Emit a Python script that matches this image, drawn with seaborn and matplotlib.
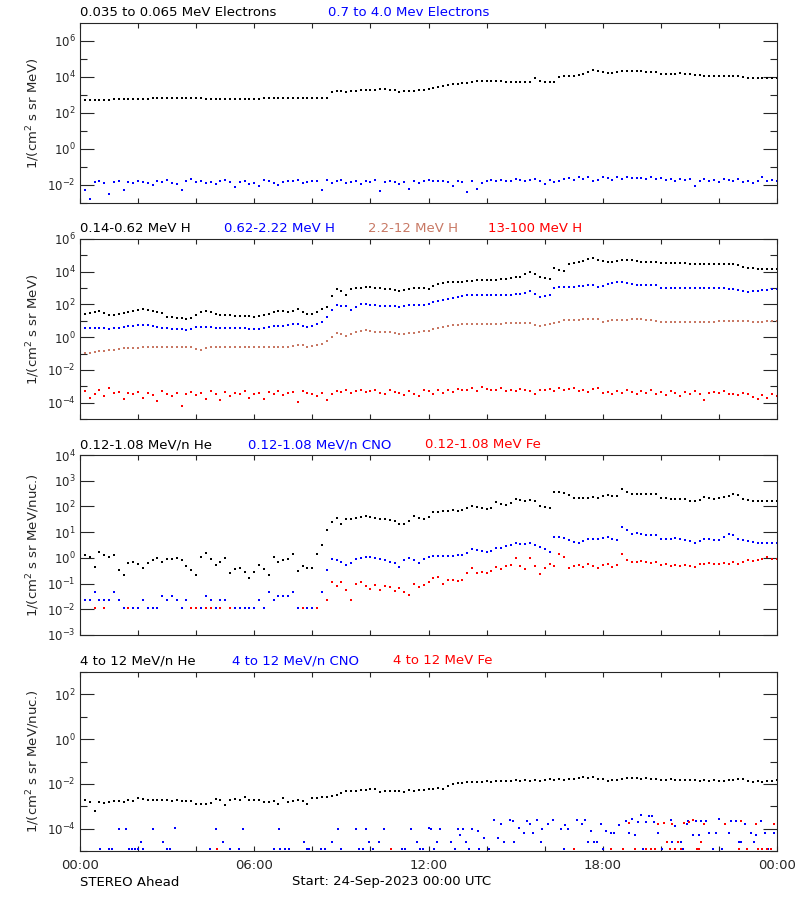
import numpy as np
import pandas as pd
import seaborn as sns
import matplotlib.pyplot as plt
from matplotlib.ticker import FixedLocator, FixedFormatter, NullFormatter

nan = np.nan

# sample times, one every 10 minutes over the day (hours since 00:00 UTC)
hours = [i / 6 for i in range(145)]

# ---- panel 1: electrons, log10 of flux ----
e_low = [
    2.77, 2.75, 2.74, 2.73, 2.72, 2.74,
    2.75, 2.76, 2.76, 2.77, 2.78, 2.78,
    2.78, 2.79, 2.80, 2.81, 2.82, 2.83,
    2.84, 2.84, 2.84, 2.83, 2.83, 2.82,
    2.82, 2.81, 2.80, 2.79, 2.78, 2.77,
    2.77, 2.76, 2.76, 2.77, 2.78, 2.78,
    2.79, 2.80, 2.81, 2.82, 2.83, 2.82,
    2.82, 2.82, 2.81, 2.82, 2.82, 2.82,
    2.81, 2.82, 2.83, 2.84, 3.15, 3.22,
    3.22, 3.15, 3.20, 3.25, 3.27, 3.28,
    3.28, 3.30, 3.31, 3.32, 3.30, 3.26,
    3.19, 3.20, 3.24, 3.25, 3.27, 3.28,
    3.31, 3.38, 3.46, 3.50, 3.57, 3.60,
    3.63, 3.66, 3.68, 3.72, 3.76, 3.78,
    3.79, 3.78, 3.77, 3.78, 3.72, 3.71,
    3.71, 3.70, 3.71, 3.72, 3.96, 3.80,
    3.72, 3.71, 3.72, 4.02, 4.03, 4.05,
    4.08, 4.12, 4.18, 4.26, 4.39, 4.32,
    4.30, 4.25, 4.24, 4.30, 4.33, 4.34,
    4.33, 4.32, 4.31, 4.30, 4.30, 4.30,
    4.14, 4.15, 4.17, 4.19, 4.20, 4.18,
    4.15, 4.12, 4.10, 4.08, 4.07, 4.07,
    4.07, 4.07, 4.07, 4.06, 4.03, 3.98,
    3.93, 3.94, 3.96, 3.96, 3.95, 3.96,
    3.96]
e_high = [
    -1.95, -2.30, -2.80, -1.85, -1.80, -1.90,
    -2.50, -1.82, -1.80, -2.30, -1.85, -1.88,
    -1.78, -1.85, -1.90, -2.00, -1.75, -1.82,
    -1.70, -1.88, -1.95, -2.25, -1.80, -1.68,
    -1.85, -1.75, -1.90, -1.85, -1.92, -1.80,
    -1.70, -1.85, -2.10, -1.82, -1.76, -1.95,
    -1.90, -2.05, -1.72, -1.80, -1.88, -2.02,
    -1.85, -1.80, -1.76, -1.72, -1.90, -1.85,
    -1.75, -1.80, -2.30, -1.70, -1.88, -1.78,
    -1.72, -1.90, -1.85, -1.80, -1.95, -1.76,
    -1.82, -1.74, -2.35, -1.85, -1.80, -1.86,
    -1.95, -1.82, -2.20, -1.76, -1.88, -1.80,
    -1.74, -1.78, -1.76, -1.80, -1.85, -2.05,
    -1.78, -1.82, -2.40, -1.80, -2.20, -1.90,
    -1.78, -1.72, -1.76, -1.70, -1.80, -1.75,
    -1.68, -1.72, -1.80, -1.74, -1.66, -1.78,
    -1.95, -1.70, -1.82, -1.75, -1.68, -1.60,
    -1.72, -1.58, -1.65, -1.55, -1.80, -1.72,
    -1.55, -1.62, -1.72, -1.58, -1.66, -1.55,
    -1.62, -1.62, -1.60, -1.64, -1.58, -1.66,
    -1.60, -1.72, -1.64, -1.78, -1.68, -1.74,
    -1.66, -2.05, -1.80, -1.64, -1.76, -1.70,
    -1.82, -1.66, -1.72, -1.80, -1.68, -1.85,
    -1.78, -1.90, -1.75, -1.58, -1.80, -1.72,
    -1.78]

# ---- panel 2: protons ----
h_1 = [
    1.41, 1.44, 1.50, 1.55, 1.57, 1.45,
    1.35, 1.38, 1.43, 1.48, 1.55, 1.62,
    1.68, 1.71, 1.68, 1.60, 1.53, 1.45,
    1.26, 1.22, 1.18, 1.16, 1.14, 1.18,
    1.37, 1.52, 1.59, 1.52, 1.40, 1.37,
    1.35, 1.33, 1.30, 1.30, 1.29, 1.28,
    1.26, 1.28, 1.33, 1.42, 1.52, 1.63,
    1.58, 1.53, 1.60, 1.71, 1.55, 1.39,
    1.42, 1.55, 1.70, 1.87, 2.52, 2.93,
    2.85, 2.60, 2.97, 3.00, 3.03, 3.05,
    3.04, 3.02, 3.00, 2.97, 2.93, 2.87,
    2.83, 2.88, 2.94, 3.03, 3.00, 2.98,
    2.97, 3.12, 3.26, 3.32, 3.36, 3.36,
    3.36, 3.38, 3.42, 3.46, 3.50, 3.50,
    3.50, 3.50, 3.52, 3.56, 3.58, 3.62,
    3.66, 3.70, 3.84, 3.97, 3.85, 3.70,
    3.62, 3.56, 4.21, 4.12, 4.05, 4.46,
    4.52, 4.58, 4.65, 4.78, 4.86, 4.72,
    4.66, 4.58, 4.62, 4.68, 4.72, 4.72,
    4.70, 4.64, 4.62, 4.62, 4.62, 4.60,
    4.52, 4.53, 4.54, 4.56, 4.56, 4.52,
    4.48, 4.47, 4.47, 4.47, 4.47, 4.47,
    4.46, 4.47, 4.47, 4.46, 4.40, 4.30,
    4.25, 4.20, 4.19, 4.19, 4.19, 4.19,
    4.19]
h_2 = [
    0.57, 0.56, 0.57, 0.58, 0.57, 0.55,
    0.53, 0.55, 0.58, 0.62, 0.66, 0.70,
    0.74, 0.76, 0.72, 0.66, 0.62, 0.58,
    0.55, 0.52, 0.50, 0.47, 0.45, 0.50,
    0.60, 0.65, 0.63, 0.60, 0.58, 0.57,
    0.57, 0.57, 0.56, 0.55, 0.54, 0.52,
    0.51, 0.53, 0.58, 0.64, 0.71, 0.70,
    0.69, 0.72, 0.78, 0.82, 0.70, 0.61,
    0.68, 0.79, 0.95, 1.26, 1.67, 1.98,
    1.92, 1.88, 1.67, 1.85, 2.00, 2.00,
    1.97, 1.95, 1.93, 1.91, 1.91, 1.90,
    1.87, 1.92, 1.96, 1.98, 1.98, 1.98,
    2.05, 2.12, 2.22, 2.30, 2.34, 2.40,
    2.46, 2.50, 2.55, 2.58, 2.60, 2.60,
    2.60, 2.60, 2.60, 2.60, 2.58, 2.58,
    2.62, 2.66, 2.72, 2.83, 2.65, 2.48,
    2.52, 2.58, 3.03, 3.04, 3.06, 3.08,
    3.09, 3.12, 3.15, 3.20, 3.18, 3.09,
    3.12, 3.25, 3.30, 3.35, 3.38, 3.30,
    3.22, 3.20, 3.20, 3.20, 3.20, 3.18,
    3.03, 3.02, 3.00, 2.99, 2.99, 2.99,
    2.99, 2.99, 2.99, 2.99, 2.99, 2.99,
    2.99, 2.98, 2.96, 2.93, 2.90, 2.85,
    2.79, 2.80, 2.84, 2.89, 2.91, 2.93,
    2.93]
h_3 = [
    -0.93, -0.95, -0.97, -0.92, -0.86, -0.83,
    -0.80, -0.76, -0.72, -0.68, -0.66, -0.65,
    -0.64, -0.63, -0.63, -0.63, -0.62, -0.62,
    -0.63, -0.62, -0.60, -0.58, -0.57, -0.58,
    -0.70, -0.80, -0.68, -0.57, -0.60, -0.62,
    -0.63, -0.63, -0.63, -0.63, -0.63, -0.63,
    -0.63, -0.63, -0.63, -0.63, -0.62, -0.62,
    -0.60, -0.57, -0.52, -0.46, -0.50, -0.63,
    -0.55, -0.46, -0.40, -0.26, 0.00, 0.25,
    0.20, 0.10, 0.20, 0.30, 0.36, 0.41,
    0.38, 0.34, 0.30, 0.29, 0.29, 0.28,
    0.21, 0.22, 0.25, 0.28, 0.32, 0.35,
    0.40, 0.48, 0.55, 0.62, 0.70, 0.74,
    0.76, 0.78, 0.80, 0.82, 0.82, 0.82,
    0.82, 0.82, 0.82, 0.83, 0.84, 0.84,
    0.84, 0.84, 0.85, 0.86, 0.76, 0.70,
    0.74, 0.80, 0.86, 0.95, 1.02, 1.04,
    1.06, 1.08, 1.10, 1.10, 1.10, 1.10,
    0.90, 0.96, 1.02, 1.04, 1.06, 1.08,
    1.10, 1.10, 1.10, 1.08, 1.02, 0.96,
    0.90, 0.90, 0.90, 0.90, 0.90, 0.90,
    0.90, 0.90, 0.90, 0.90, 0.90, 0.92,
    0.96, 0.96, 0.96, 0.96, 0.96, 0.96,
    0.96, 0.95, 0.95, 0.95, 0.96, 0.96,
    0.98]
h_4 = [
    -3.55, -3.30, -3.70, -3.45, -3.20, -3.60,
    -3.10, -3.40, -3.35, -3.80, -3.40, -3.45,
    -3.35, -3.70, -3.40, -3.55, -3.90, -3.30,
    -3.45, -3.60, -3.40, -4.20, -3.50, -3.35,
    -3.55, -3.40, -3.75, -3.30, -3.45, -3.85,
    -3.35, -3.60, -3.40, -3.50, -3.30, -3.70,
    -3.45, -3.40, -3.80, -3.35, -3.50, -3.30,
    -3.55, -3.40, -3.35, -3.95, -3.30, -3.40,
    -3.50, -3.60, -3.40, -3.85, -3.50, -3.30,
    -3.35, -3.25, -3.40, -3.30, -3.20, -3.35,
    -3.30, -3.25, -3.40, -3.50, -3.20, -3.35,
    -3.40, -3.55, -3.30, -3.45, -3.60, -3.25,
    -3.30, -3.45, -3.25, -3.40, -3.20, -3.35,
    -3.15, -3.25, -3.20, -3.10, -3.30, -3.05,
    -3.15, -3.20, -3.25, -3.10, -3.30, -3.20,
    -3.30, -3.15, -3.20, -3.30, -3.50, -3.20,
    -3.25, -3.15, -3.30, -3.10, -3.25, -3.15,
    -3.10, -3.30, -3.20, -3.35, -3.15, -3.10,
    -3.40, -3.35, -3.45, -3.30, -3.40, -3.25,
    -3.35, -3.50, -3.30, -3.40, -3.25, -3.45,
    -3.35, -3.55, -3.30, -3.40, -3.60, -3.35,
    -3.45, -3.30, -3.50, -3.85, -3.40, -3.35,
    -3.40, -3.30, -3.50, -3.45, -3.55, -3.40,
    -3.50, -3.65, -3.80, -3.55, -3.70, -3.45,
    -3.60]

# ---- panel 3: 0.12-1.08 MeV/n heavy ions ----
he_lo = [
    0.04, 0.10, 0.04, -0.35, 0.24, 0.10,
    0.02, 0.10, -0.47, -0.67, -0.21, -0.15,
    -0.25, -0.40, -0.21, -0.10, 0.00, -0.15,
    -0.05, -0.05, -0.02, -0.10, -0.30, -0.47,
    -0.67, 0.05, 0.18, -0.05, -0.27, -0.15,
    0.00, -0.60, -0.45, -0.40, -0.55, -0.80,
    -0.55, -0.27, -0.45, -0.67, 0.04, -0.15,
    -0.10, -0.05, 0.15, -0.53, -0.30, -0.40,
    -0.40, 0.15, 0.50, 1.08, 1.40, 1.55,
    1.30, 1.50, 1.53, 1.55, 1.58, 1.62,
    1.58, 1.55, 1.53, 1.50, 1.48, 1.42,
    1.31, 1.33, 1.45, 1.63, 1.55, 1.53,
    1.60, 1.77, 1.80, 1.83, 1.83, 1.85,
    1.83, 1.88, 1.95, 2.01, 1.98, 1.95,
    1.90, 1.95, 2.18, 2.10, 2.05, 2.15,
    2.27, 2.24, 2.22, 2.25, 2.20, 2.00,
    1.98, 1.95, 2.57, 2.55, 2.53, 2.45,
    2.31, 2.33, 2.34, 2.34, 2.35, 2.34,
    2.40, 2.44, 2.42, 2.40, 2.67, 2.55,
    2.49, 2.50, 2.49, 2.48, 2.49, 2.48,
    2.31, 2.31, 2.30, 2.28, 2.30, 2.27,
    2.20, 2.21, 2.25, 2.36, 2.33, 2.30,
    2.31, 2.35, 2.42, 2.49, 2.45, 2.27,
    2.24, 2.22, 2.22, 2.22, 2.22, 2.22,
    2.22]
cno_lo = [
    -1.32, -1.64, -1.64, -1.32, -1.64, -1.64,
    -1.64, -1.32, -1.64, -1.94, -1.94, -1.94,
    -1.94, -1.64, -1.94, -1.94, -1.94, -1.50,
    -1.64, -1.50, -1.64, -1.94, -1.64, -1.94,
    -1.94, -1.94, -1.50, -1.64, -1.94, -1.64,
    -1.64, -1.94, -1.94, -1.94, -1.94, -1.94,
    -1.94, -1.64, -1.94, -1.32, -1.64, -1.50,
    -1.50, -1.50, -1.32, -1.94, -1.94, -1.94,
    -1.94, -1.94, -1.32, -0.47, -0.06, -0.10,
    -0.15, -0.27, -0.20, -0.05, -0.02, 0.03,
    0.05, 0.00, -0.05, -0.10, -0.15, -0.20,
    -0.35, -0.10, 0.00, -0.10, -0.20, -0.05,
    0.02, 0.07, 0.07, 0.08, 0.06, 0.08,
    0.10, 0.12, 0.20, 0.33, 0.30, 0.25,
    0.24, 0.28, 0.37, 0.40, 0.45, 0.50,
    0.56, 0.55, 0.52, 0.56, 0.50, 0.41,
    0.35, 0.24, 0.82, 0.80, 0.78, 0.70,
    0.60, 0.56, 0.65, 0.72, 0.72, 0.72,
    0.76, 0.82, 0.75, 0.69, 1.21, 1.10,
    0.92, 0.96, 0.92, 0.88, 0.88, 0.88,
    0.75, 0.72, 0.75, 0.78, 0.75, 0.70,
    0.65, 0.58, 0.65, 0.75, 0.72, 0.71,
    0.71, 0.80, 0.91, 0.88, 0.75, 0.71,
    0.66, 0.60, 0.58, 0.58, 0.58, 0.58,
    0.58]
fe_lo = [
    nan, nan, nan, -1.94, nan, -1.94,
    nan, nan, nan, nan, -1.94, nan,
    nan, nan, nan, nan, nan, nan,
    nan, nan, nan, nan, nan, -1.94,
    -1.94, nan, -1.94, -1.94, nan, -1.94,
    nan, -1.94, nan, nan, nan, nan,
    nan, nan, nan, nan, nan, nan,
    nan, nan, nan, nan, -1.94, nan,
    nan, -1.94, nan, -1.64, -0.93, -1.10,
    -0.95, -1.26, -1.64, -1.00, -0.93, -1.10,
    -1.20, -1.05, -1.26, -1.10, -1.15, -1.30,
    -1.16, -1.32, -1.45, -1.00, -1.15, -1.05,
    -0.95, -0.80, -0.75, -1.00, -0.85, -0.88,
    -0.90, -0.85, -0.60, -0.41, -0.60, -0.55,
    -0.60, -0.50, -0.35, -0.45, -0.30, -0.28,
    -0.02, -0.32, -0.45, 0.00, -0.32, -0.64,
    -0.40, -0.22, -0.30, 0.15, 0.04, -0.40,
    -0.32, -0.28, -0.35, -0.25, -0.30, -0.40,
    -0.28, -0.22, -0.35, -0.28, 0.15, -0.10,
    -0.15, -0.18, -0.12, -0.15, -0.20, -0.15,
    -0.28, -0.25, -0.30, -0.28, -0.32, -0.28,
    -0.30, -0.35, -0.22, -0.25, -0.20, -0.22,
    -0.22, -0.20, -0.25, -0.18, -0.22, -0.15,
    -0.09, -0.12, -0.10, -0.05, 0.02, -0.05,
    -0.05]

# ---- panel 4: 4-12 MeV/n heavy ions ----
he_hi = [
    -3.05, -2.71, -2.80, -3.20, -2.83, -2.85,
    -2.83, -2.78, -2.76, -2.80, -2.74, -2.76,
    -2.61, -2.68, -2.71, -2.70, -2.73, -2.71,
    -2.70, -2.76, -2.74, -2.78, -2.76, -2.75,
    -2.90, -2.88, -2.92, -2.85, -2.66, -2.74,
    -2.95, -2.71, -2.68, -2.72, -2.60, -2.70,
    -2.72, -2.74, -2.80, -2.82, -2.78, -2.90,
    -2.61, -2.82, -2.76, -2.74, -2.78, -2.90,
    -2.65, -2.61, -2.60, -2.58, -2.54, -2.48,
    -2.40, -2.32, -2.31, -2.30, -2.28, -2.26,
    -2.21, -2.25, -2.36, -2.32, -2.30, -2.31,
    -2.30, -2.35, -2.28, -2.30, -2.26, -2.28,
    -2.21, -2.22, -2.18, -2.21, -2.10, -2.01,
    -1.98, -1.95, -1.93, -1.92, -1.90, -1.93,
    -1.88, -1.90, -1.86, -1.87, -1.85, -1.86,
    -1.84, -1.86, -1.82, -1.85, -1.84, -1.86,
    -1.82, -1.80, -1.83, -1.79, -1.82, -1.80,
    -1.76, -1.72, -1.70, -1.74, -1.70, -1.76,
    -1.80, -1.88, -1.82, -1.81, -1.76, -1.74,
    -1.75, -1.72, -1.76, -1.73, -1.77, -1.78,
    -1.82, -1.84, -1.80, -1.82, -1.83, -1.81,
    -1.82, -1.84, -1.85, -1.83, -1.86, -1.84,
    -1.86, -1.88, -1.84, -1.82, -1.78, -1.80,
    -1.86, -1.90, -1.88, -1.92, -1.88, -1.86,
    -1.84]

# sparse counts: (hour, log10 flux)
cno_hi = [
    (0.69, -4.9), (1.0, -4.9), (1.1, -4.9), (1.36, -4.0), (1.59, -4.0),
    (1.7, -4.9), (1.8, -4.9), (1.9, -4.9), (2.0, -4.9), (2.09, -4.61),
    (2.18, -4.9), (2.5, -4.0), (2.87, -4.61), (2.99, -4.9), (3.1, -4.9),
    (3.28, -3.98), (4.48, -4.9), (4.69, -4.0), (4.92, -4.61), (5.17, -4.9),
    (5.46, -4.9), (5.6, -4.0), (6.67, -4.9), (6.84, -4.0), (6.9, -4.9),
    (7.05, -4.9), (7.2, -4.9), (7.72, -4.61), (7.8, -4.9), (7.9, -4.9),
    (8.3, -4.9), (8.45, -4.9), (8.68, -4.61), (8.9, -4.0), (9.0, -4.9),
    (9.5, -4.0), (9.6, -4.9), (9.75, -4.9), (9.86, -4.0), (9.94, -4.61),
    (10.1, -4.9), (10.3, -4.61), (10.46, -4.0), (11.1, -4.9), (11.2, -4.9),
    (11.4, -4.0), (11.6, -4.61), (11.7, -4.9), (11.8, -4.9), (12.0, -3.98),
    (12.1, -4.0), (12.2, -4.9), (12.3, -4.61), (12.4, -4.0), (12.76, -4.61),
    (12.9, -4.9), (13.0, -4.0), (13.1, -4.3), (13.2, -4.0), (13.3, -4.61),
    (13.4, -4.9), (13.5, -4.0), (13.7, -4.12), (13.75, -4.9), (13.9, -4.4),
    (14.1, -4.9), (14.25, -3.63), (14.4, -4.4), (14.5, -3.8), (14.6, -4.61),
    (14.8, -3.63), (14.9, -3.68), (14.94, -4.61), (15.1, -3.95), (15.3, -4.2),
    (15.4, -3.68), (15.5, -3.8), (15.6, -4.2), (15.75, -3.63), (15.86, -4.61),
    (15.9, -4.0), (16.1, -3.8), (16.3, -3.63), (16.55, -4.0), (16.67, -4.9),
    (16.7, -3.85), (16.8, -4.0), (17.0, -4.9), (17.1, -3.6), (17.3, -3.8),
    (17.4, -3.63), (17.5, -4.61), (17.6, -4.12), (17.7, -4.61), (17.8, -4.61),
    (17.93, -3.8), (18.0, -4.9), (18.1, -4.1), (18.3, -4.2), (18.4, -4.2),
    (18.56, -3.85), (18.7, -4.9), (18.8, -3.68), (18.9, -4.2), (19.0, -3.55),
    (19.1, -4.3), (19.2, -3.72), (19.3, -3.4), (19.4, -4.9), (19.5, -3.72),
    (19.6, -3.42), (19.7, -3.42), (19.77, -3.72), (19.8, -4.9), (19.9, -4.2),
    (20.05, -4.9), (20.2, -4.61), (20.35, -3.63), (20.4, -4.61), (20.5, -3.9),
    (20.7, -4.61), (20.75, -4.9), (20.9, -3.8), (20.92, -3.65), (21.1, -4.3),
    (21.2, -3.65), (21.3, -4.3), (21.4, -3.65), (21.55, -3.65), (21.66, -4.2),
    (21.8, -4.9), (21.9, -4.2), (22.0, -3.55), (22.1, -4.9), (22.35, -4.2),
    (22.4, -3.65), (22.6, -3.65), (22.7, -4.61), (22.75, -4.61), (22.9, -3.8),
    (23.1, -4.2), (23.2, -4.61), (23.27, -4.3), (23.45, -3.68), (23.5, -4.9),
    (23.6, -4.2), (23.7, -4.9), (23.9, -4.2)]
fe_hi = [
    (4.73, -4.9), (10.7, -4.9), (17.0, -4.9), (18.3, -4.9), (18.7, -4.9),
    (18.9, -3.75), (19.1, -4.9), (19.5, -4.9), (19.65, -4.9), (19.8, -4.9),
    (19.9, -3.8), (20.1, -3.75), (20.2, -4.61), (20.3, -4.9), (20.4, -3.8),
    (20.5, -4.9), (20.6, -4.61), (20.7, -4.9), (20.8, -3.75), (20.98, -3.72),
    (21.1, -3.63), (21.25, -4.9), (21.3, -4.9), (21.4, -4.61), (21.5, -3.8),
    (22.2, -3.8), (22.7, -4.9), (22.75, -3.65), (22.96, -4.9), (23.27, -3.8),
    (23.35, -4.9), (23.5, -4.9), (23.65, -4.9), (23.8, -4.9), (23.9, -3.8)]

BLACK, BLUE, SIENNA, RED = 'black', '#0000ff', '#c87864', '#ff0000'
TXT = 9.5

sns.set_style('ticks')
plt.rcParams['font.family'] = ['DejaVu Sans']
plt.rcParams['mathtext.fontset'] = 'dejavusans'

fig = plt.figure(figsize=(8, 9), dpi=100)
W, H = 800, 900


def px_axes(top, bottom):
    return fig.add_axes([80 / W, 1 - bottom / H, 697 / W, (bottom - top) / H])


def series(ax, logs, color, t=None):
    if t is None:
        t = hours
    df = pd.DataFrame({'hour': t, 'flux': np.power(10.0, logs)}).dropna()
    sns.scatterplot(data=df, x='hour', y='flux', ax=ax, color=color,
                    marker='s', s=4, linewidth=0, legend=False)


def pairs(ax, pts, color):
    t = [p[0] for p in pts]
    v = [p[1] for p in pts]
    series(ax, v, color, t)


def style(ax, lo, hi, labelled, minor, bottom_labels=False):
    ax.set_yscale('log')
    ax.set_ylim(10.0 ** lo, 10.0 ** hi)
    ax.set_xlim(0, 24)
    ax.yaxis.set_major_locator(FixedLocator([10.0 ** e for e in labelled]))
    ax.yaxis.set_major_formatter(
        FixedFormatter([r'$10^{%d}$' % e for e in labelled]))
    ax.yaxis.set_minor_locator(FixedLocator([10.0 ** e for e in minor]))
    ax.yaxis.set_minor_formatter(NullFormatter())
    ax.tick_params(axis='y', which='major', direction='in', length=10,
                   width=0.8, left=True, right=True, labelsize=8.5, pad=3)
    ax.tick_params(axis='y', which='minor', direction='in', length=5,
                   width=0.8, left=True, right=True)
    ax.set_xticks(range(0, 25, 2))
    if bottom_labels:
        ax.set_xticklabels(['00:00' if h % 24 == 0 else
                            ('%02d:00' % h if h % 6 == 0 else '')
                            for h in range(0, 25, 2)])
    else:
        ax.set_xticklabels([])
    ax.tick_params(axis='x', direction='in', length=3.5, width=0.8,
                   top=True, bottom=True, labelsize=TXT, pad=6)
    ax.set_xlabel('')
    ax.set_ylabel('')
    for sp in ax.spines.values():
        sp.set_linewidth(0.8)
        sp.set_visible(True)


def label(x, y, s, color='black', size=TXT, **kw):
    fig.text(x / W, 1 - y / H, s, color=color, fontsize=size,
             ha='left', va='center', **kw)


# panel 1
ax1 = px_axes(23, 203)
series(ax1, e_low, BLACK)
series(ax1, e_high, BLUE)
style(ax1, -3, 7, [-2, 0, 2, 4, 6], [-3, -1, 1, 3, 5])
label(80, 13, '0.035 to 0.065 MeV Electrons')
label(328, 13, '0.7 to 4.0 Mev Electrons', BLUE)

# panel 2
ax2 = px_axes(239, 419)
series(ax2, h_1, BLACK)
series(ax2, h_2, BLUE)
series(ax2, h_3, SIENNA)
series(ax2, h_4, RED)
style(ax2, -5, 6, [-4, -2, 0, 2, 4, 6], [-5, -3, -1, 1, 3, 5])
label(80, 229, '0.14-0.62 MeV H')
label(224, 229, '0.62-2.22 MeV H', BLUE)
label(368, 229, '2.2-12 MeV H', SIENNA)
label(488, 229, '13-100 MeV H', RED)

# panel 3
ax3 = px_axes(455, 635)
series(ax3, he_lo, BLACK)
series(ax3, cno_lo, BLUE)
series(ax3, fe_lo, RED)
style(ax3, -3, 4, [-3, -2, -1, 0, 1, 2, 3, 4], [])
label(80, 445, '0.12-1.08 MeV/n He')
label(248, 445, '0.12-1.08 MeV/n CNO', BLUE)
label(425, 445, '0.12-1.08 MeV Fe', RED)

# panel 4
ax4 = px_axes(672, 851)
series(ax4, he_hi, BLACK)
pairs(ax4, cno_hi, BLUE)
pairs(ax4, fe_hi, RED)
style(ax4, -5, 3, [-4, -2, 0, 2], [-5, -3, -1, 1, 3], bottom_labels=True)
label(80, 661, '4 to 12 MeV/n He')
label(232, 661, '4 to 12 MeV/n CNO', BLUE)
label(393, 661, '4 to 12 MeV Fe', RED)

# y-axis titles
for top, bottom, txt in [(23, 203, r'1/(cm$^2$ s sr MeV)'),
                         (239, 419, r'1/(cm$^2$ s sr MeV)'),
                         (455, 635, r'1/(cm$^2$ s sr MeV/nuc.)'),
                         (672, 851, r'1/(cm$^2$ s sr MeV/nuc.)')]:
    fig.text(33 / W, 1 - (top + bottom) / 2 / H, txt, rotation=90,
             fontsize=TXT, ha='center', va='center')

label(80, 882, 'STEREO Ahead')
label(292, 882, 'Start: 24-Sep-2023 00:00 UTC')

fig.savefig('out.png', dpi=100, facecolor='white')
